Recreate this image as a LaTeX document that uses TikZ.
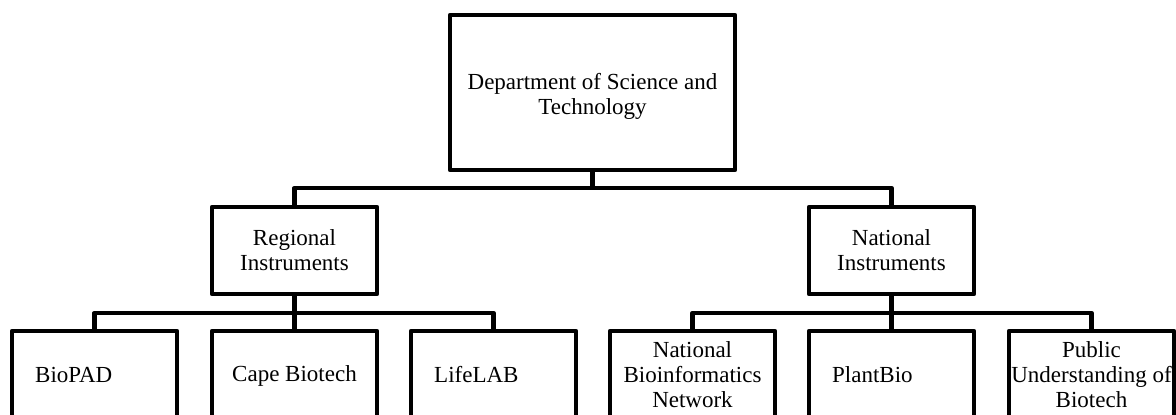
\documentclass[tikz,border=0pt]{standalone}
\usepackage{fontspec}
\setmainfont{Liberation Serif}
\begin{document}
\begin{tikzpicture}[x=1pt,y=-1pt,
  box/.style={draw,line width=4.8pt,line join=round,fill=white,minimum width=165pt,inner sep=0pt},
  childbox/.style={box,minimum height=87pt},
  txt/.style={font=\fontsize{23}{25}\selectfont,align=center,inner sep=0pt},
  ltxt/.style={font=\fontsize{23}{25}\selectfont,inner sep=0pt,anchor=base west,xshift=25.4pt,yshift=-7.5pt},
  link/.style={line width=4.8pt,line join=round}]
\fill[white] (0,0) rectangle (1176,415);
\useasboundingbox (0,0) rectangle (1176,415);
\clip (0,0) rectangle (1176,415);
% top
\node[box,minimum width=285pt,minimum height=155pt] (dst) at (592.5,92.5) {};
\node[txt,yshift=-4pt] (dsttxt) at (dst.center) {Department of Science and\\Technology};
% second level
\node[box,minimum height=87pt] (reg) at (294.5,250.5) {};
\node[txt] (regtxt) at (reg.center) {Regional\\Instruments};
\node[box,minimum height=87pt] (nat) at (891.5,250.5) {};
\node[txt] (nattxt) at (nat.center) {National\\Instruments};
% children
\node[childbox] (biopad) at (94.5,374.5) {};
\node[ltxt] (biopadtxt) at (biopad.west) {BioPAD};
\node[childbox] (cape) at (294.5,374.5) {};
\node[txt,yshift=-1pt] (capetxt) at (cape.center) {Cape Biotech};
\node[childbox] (life) at (493.5,374.5) {};
\node[ltxt] (lifetxt) at (life.west) {LifeLAB};
\node[childbox] (nbn) at (692.5,374.5) {};
\node[txt] (nbntxt) at (nbn.center) {National\\Bioinformatics\\Network};
\node[childbox] (plant) at (891.5,374.5) {};
\node[ltxt] (planttxt) at (plant.west) {PlantBio};
\node[childbox] (pub) at (1091.5,374.5) {};
\node[txt] (pubtxt) at (pub.center) {Public\\Understanding of\\Biotech};
% bus levels
\coordinate (bus0) at (592.5,188);
\coordinate (bus1) at (294.5,313);
\coordinate (bus2) at (891.5,313);
% connectors
\draw[link] (dst.south) -- (dst.south |- bus0) -| (reg.north);
\draw[link] (dst.south |- bus0) -| (nat.north);
\draw[link] (reg.south) -- (reg.south |- bus1) -| (biopad.north);
\draw[link] (reg.south |- bus1) -| (life.north);
\draw[link] (reg.south |- bus1) -- (cape.north);
\draw[link] (nat.south) -- (nat.south |- bus2) -| (nbn.north);
\draw[link] (nat.south |- bus2) -| (pub.north);
\draw[link] (nat.south |- bus2) -- (plant.north);
\end{tikzpicture}
\end{document}
